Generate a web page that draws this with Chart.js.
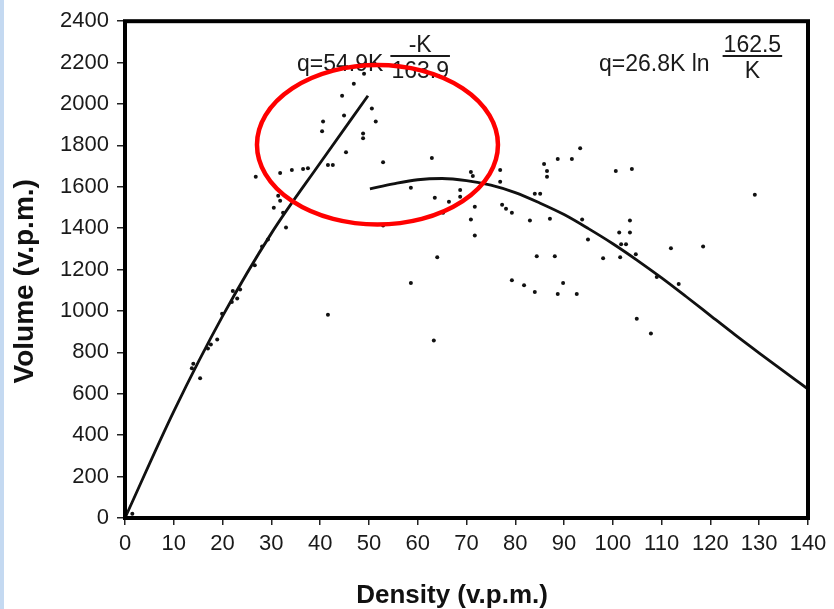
<!DOCTYPE html>
<html>
<head>
<meta charset="utf-8">
<script src="https://cdn.jsdelivr.net/npm/chart.js@4.4.1/dist/chart.umd.min.js"></script>
<style>
  html, body { margin: 0; padding: 0; background: #fff; }
  #wrap { position: relative; width: 834px; height: 609px; }
  #edge { position: absolute; left: 0; top: 0; width: 4px; height: 609px; background: #c4d9f1; }
</style>
</head>
<body>
<div id="wrap">
  <canvas id="flowChart" width="834" height="609"></canvas>
  <div id="edge"></div>
</div>
<script>
// tick values
let densityTicks = [0, 10, 20, 30, 40, 50, 60, 70, 80, 90, 100, 110, 120, 130, 140];
let volumeTicks = [0, 200, 400, 600, 800, 1000, 1200, 1400, 1600, 1800, 2000, 2200, 2400];

// observed points (density, volume)
let obsDensity = [1.5, 13.7, 14.0, 15.4, 17.0, 17.6, 18.9, 19.9, 21.9, 22.1, 23.0, 23.6, 26.6, 28.1, 29.3,
    30.5, 31.4, 31.8, 32.4, 33.0, 26.8, 31.8, 34.2, 36.5, 37.5, 41.6, 42.6, 45.3, 40.4, 40.6,
    44.9, 44.5, 46.9, 49.0, 50.6, 51.4, 48.8, 48.8, 52.9, 52.9, 41.6, 58.6, 62.9, 63.5, 66.4,
    65.2, 68.7, 68.7, 70.9, 71.3, 71.7, 70.9, 71.7, 76.9, 76.9, 77.3, 78.1, 79.3, 84.0, 85.1,
    83.0, 87.1, 85.9, 86.5, 86.5, 88.7, 91.6, 93.3, 64.0, 58.6, 84.4, 88.1, 79.3, 81.8, 84.0,
    89.8, 88.7, 92.6, 63.3, 100.6, 103.9, 93.7, 94.9, 103.5, 103.5, 101.3, 101.7, 102.7, 98.0,
    104.7, 101.5, 111.9, 118.5, 109.0, 113.5, 104.9, 107.8, 129.1];
let obsVolume = [20, 723, 745, 675, 819, 838, 862, 987, 1044, 1097, 1060, 1104, 1221, 1312, 1346,
    1499, 1557, 1533, 1475, 1403, 1648, 1667, 1681, 1686, 1690, 1705, 1705, 1767, 1868, 1916,
    1944, 2040, 2098, 2146, 1978, 1916, 1858, 1834, 1719, 1413, 982, 1595, 1739, 1547, 1528,
    1475, 1585, 1552, 1671, 1652, 1504, 1442, 1365, 1681, 1624, 1513, 1494, 1475, 1566, 1566,
    1437, 1446, 1710, 1676, 1648, 1734, 1734, 1786, 1260, 1135, 1264, 1264, 1149, 1125, 1092,
    1135, 1082, 1082, 857, 1676, 1686, 1442, 1346, 1437, 1379, 1379, 1322, 1322, 1255,
    1274, 1260, 1303, 1312, 1164, 1130, 963, 891, 1561];

// fitted curves
let freeDensity = [0, 10, 20, 30, 40, 49.8];
let freeVolume = [0, 515, 975, 1375, 1715, 2040];
let congDensity = [50.2, 55, 60, 65, 70, 75, 80, 85, 90, 95, 100, 105, 110, 115, 120, 125, 130, 135, 140];
let congVolume = [1590, 1614, 1634, 1640, 1630, 1608, 1572, 1522, 1466, 1398, 1325, 1245, 1160, 1070, 978, 886, 797, 710, 623];

// equation labels
let equations = [
    { lead: 'q=54.9K', num: '-K', den: '163.9', x: 35.25, y: 2160, fracX: 60.5, barY: 2232 },
    { lead: 'q=26.8K ln', num: '162.5', den: 'K', x: 97.15, y: 2160, fracX: 128.6, barY: 2232 }
];

// red highlight ellipse (data units)
let ring = { x: 51.75, y: 1803, rx: 24.7, ry: 385 };

const toPoints = (xs, ys) => xs.map((v, i) => ({ x: v, y: ys[i] }));

const tickFont = { family: '"Liberation Sans", Arial, sans-serif', size: 22 };
const titleFont = { family: '"Liberation Sans", Arial, sans-serif', size: 26, weight: 'bold', lineHeight: 1 };

const overlayPlugin = {
    id: 'overlay',
    afterDatasetsDraw(chart) {
        const { ctx, chartArea, scales: { x, y } } = chart;
        ctx.save();

        // frame
        ctx.strokeStyle = '#000';
        ctx.lineWidth = 4;
        ctx.strokeRect(chartArea.left, chartArea.top, chartArea.right - chartArea.left, chartArea.bottom - chartArea.top);

        // equations
        ctx.font = '23px "Liberation Sans", Arial, sans-serif';
        ctx.fillStyle = '#1a1a1a';
        equations.forEach(eq => {
            ctx.textAlign = 'left';
            ctx.textBaseline = 'alphabetic';
            ctx.fillText(eq.lead, x.getPixelForValue(eq.x), y.getPixelForValue(eq.y));

            let fx = x.getPixelForValue(eq.fracX);
            let by = y.getPixelForValue(eq.barY);
            let w = Math.max(ctx.measureText(eq.num).width, ctx.measureText(eq.den).width) + 2;
            ctx.textAlign = 'center';
            ctx.fillText(eq.num, fx, by - 4);
            ctx.fillText(eq.den, fx, by + 22);
            ctx.strokeStyle = '#1a1a1a';
            ctx.lineWidth = 2;
            ctx.beginPath();
            ctx.moveTo(fx - w / 2, by);
            ctx.lineTo(fx + w / 2, by);
            ctx.stroke();
        });

        // highlight ellipse
        let cx = x.getPixelForValue(ring.x);
        let cy = y.getPixelForValue(ring.y);
        let rx = x.getPixelForValue(ring.x + ring.rx) - cx;
        let ry = cy - y.getPixelForValue(ring.y + ring.ry);
        ctx.strokeStyle = '#ff0000';
        ctx.lineWidth = 4.5;
        ctx.beginPath();
        ctx.ellipse(cx, cy, rx, ry, 0, 0, Math.PI * 2);
        ctx.stroke();

        ctx.restore();
    }
};

let ctx = document.getElementById('flowChart').getContext('2d');
let flowChart = new Chart(ctx, {
    type: 'scatter',
    data: {
        datasets: [{
            label: 'Observed',
            data: toPoints(obsDensity, obsVolume),
            backgroundColor: '#111',
            borderColor: '#111',
            pointRadius: 2,
            borderWidth: 0
        }, {
            label: 'Free flow fit',
            data: toPoints(freeDensity, freeVolume),
            showLine: true,
            borderColor: '#111',
            borderWidth: 2.8,
            pointRadius: 0,
            cubicInterpolationMode: 'monotone'
        }, {
            label: 'Congested fit',
            data: toPoints(congDensity, congVolume),
            showLine: true,
            borderColor: '#111',
            borderWidth: 2.8,
            pointRadius: 0,
            cubicInterpolationMode: 'monotone'
        }]
    },
    options: {
        responsive: false,
        animation: false,
        layout: { padding: { top: 17, right: 26, left: 0, bottom: 0 } },
        plugins: {
            legend: { display: false },
            tooltip: { enabled: false }
        },
        scales: {
            x: {
                type: 'linear',
                min: 0,
                max: 140,
                afterBuildTicks: scale => { scale.ticks = densityTicks.map(v => ({ value: v })); },
                afterFit: scale => { scale.height = 91; },
                ticks: { font: tickFont, color: '#1a1a1a', padding: 6, maxRotation: 0, callback: v => String(v) },
                grid: { drawOnChartArea: false, drawTicks: true, tickLength: 7, color: '#222', lineWidth: 1.5 },
                border: { display: false },
                title: { display: true, text: 'Density (v.p.m.)    ', font: titleFont, color: '#111', padding: { top: 0, bottom: 0 } }
            },
            y: {
                type: 'linear',
                min: 0,
                max: 2400,
                afterBuildTicks: scale => { scale.ticks = volumeTicks.map(v => ({ value: v })); },
                afterFit: scale => { scale.width = 125; },
                ticks: { font: tickFont, color: '#1a1a1a', padding: 8, callback: v => String(v) },
                grid: { drawOnChartArea: false, drawTicks: true, tickLength: 8, color: '#222', lineWidth: 1.5 },
                border: { display: false },
                title: { display: true, text: 'Volume (v.p.m.)   ', font: { family: '"Liberation Sans", Arial, sans-serif', size: 28, weight: 'bold', lineHeight: 1 }, color: '#111', padding: { top: 11, bottom: 0 } }
            }
        }
    },
    plugins: [overlayPlugin]
});
</script>
</body>
</html>
